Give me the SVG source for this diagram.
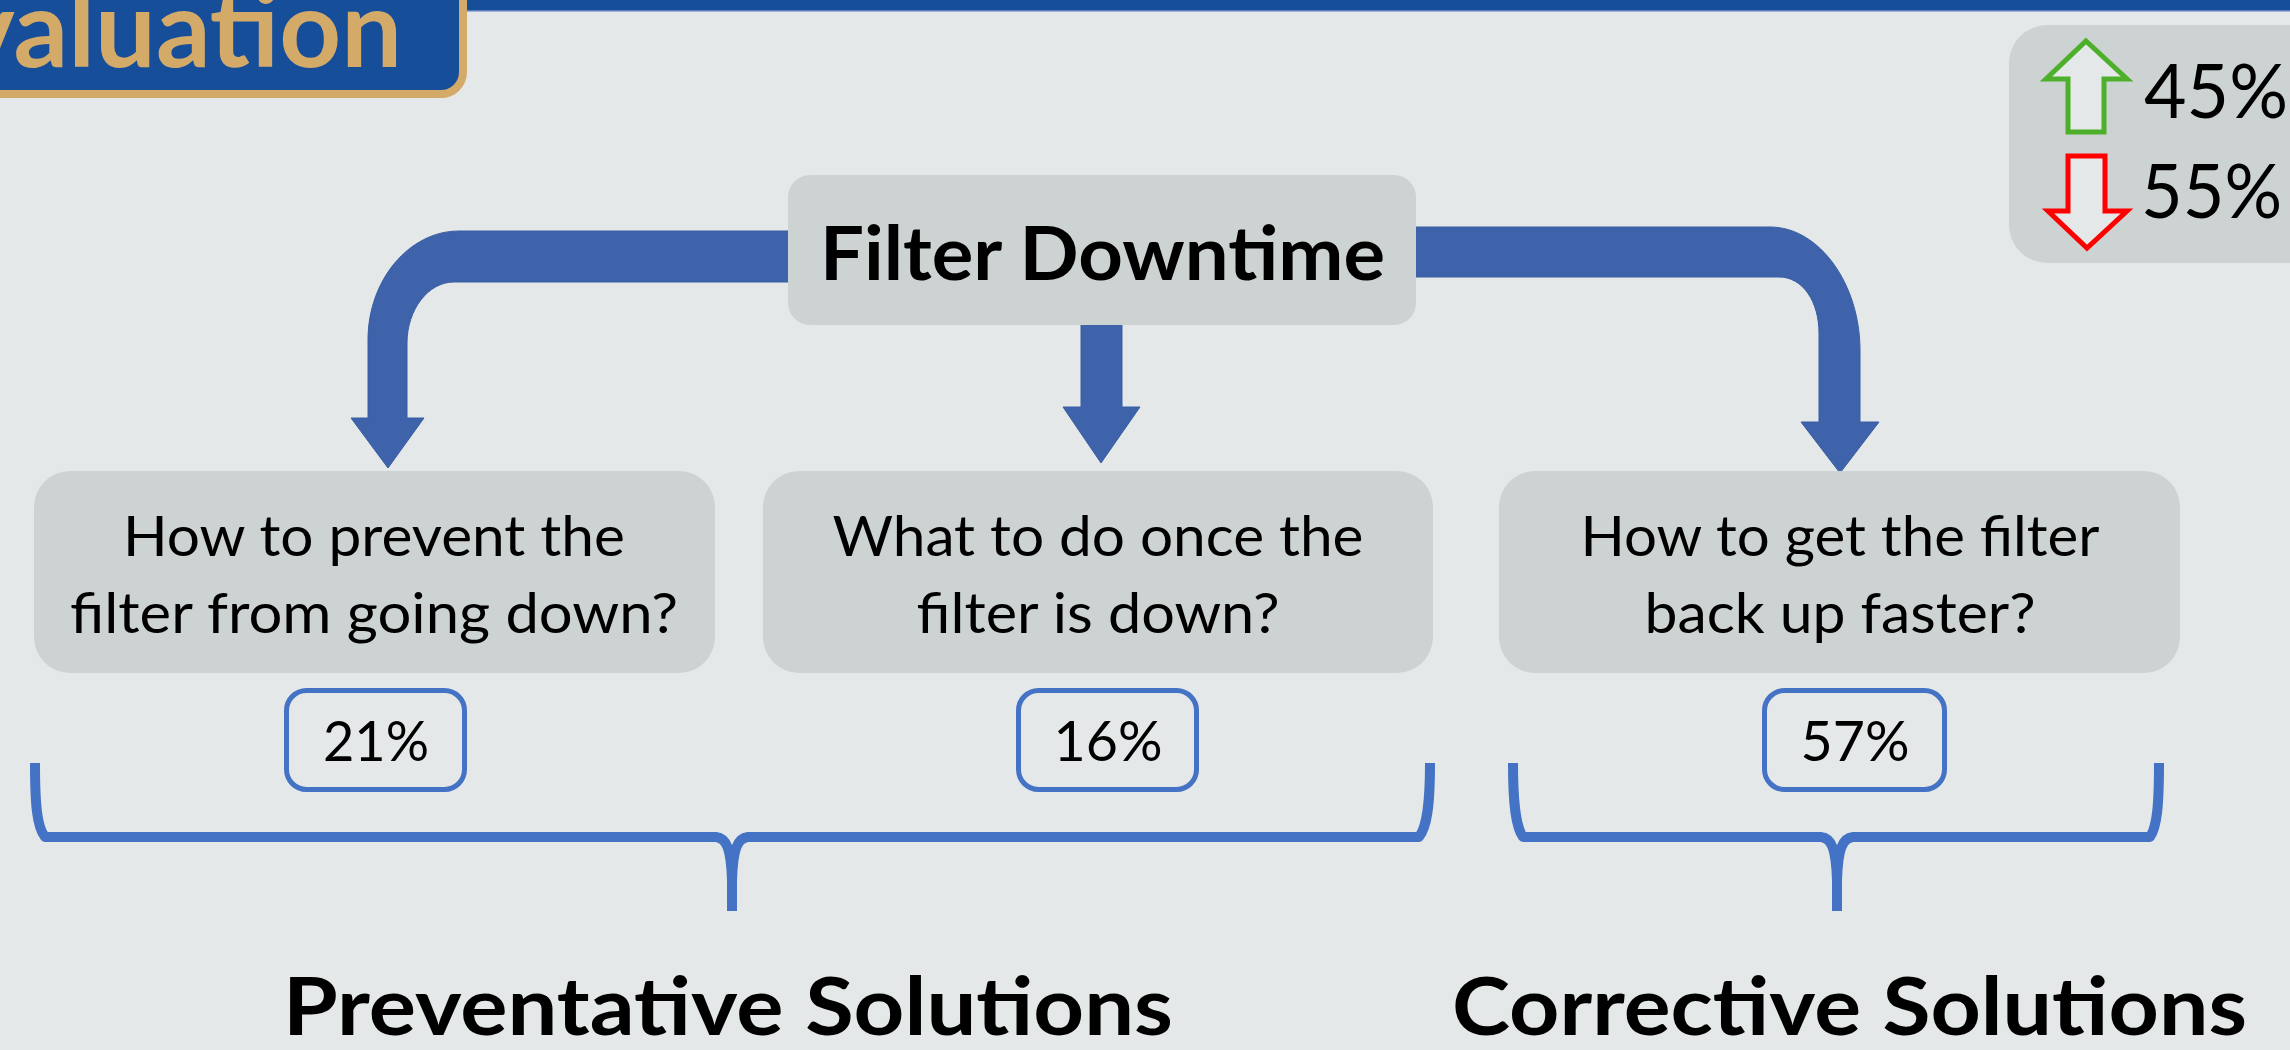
<svg xmlns="http://www.w3.org/2000/svg" width="2290" height="1050" viewBox="0 0 2290 1050">
<style>
.bg{fill:#E4E8E9}
.node{fill:#CDD3D3}
.arrow{fill:#3F63AA;stroke:#3A5EA3;stroke-width:1}
.pct{fill:none;stroke:#4472C4;stroke-width:5}
.brace{fill:none;stroke:#4472C4;stroke-width:10;stroke-linejoin:round}
.t{font-family:Lato,"Open Sans","Liberation Sans",sans-serif;fill:#000}
.q{font-size:56px;text-anchor:middle}
.b{font-weight:bold}
</style>
<rect class="bg" x="0" y="0" width="2290" height="1050"/>

<g id="top-bar">
<rect x="440" y="0" width="1850" height="10" fill="#174E9A"/>
<rect x="440" y="10" width="1850" height="1.5" fill="#5A7FBE"/>
</g>

<g id="title">
<rect x="-30" y="-30" width="493" height="124" rx="22" fill="#174E9A" stroke="#D4AA68" stroke-width="8"/>
<text class="t b" x="-42" y="67" font-size="107" fill="#D4AA68" style="fill:#D4AA68" textLength="444" lengthAdjust="spacingAndGlyphs">valuation</text>
</g>

<g id="connectors">
<path class="arrow" d="M 800 231 L 459 231 C 409 231 368 280 368 340 L 368 418 L 351 418 L 388 468 L 424 418 L 407 418 L 407 343 C 407 310 428 282 454 282 L 800 282 Z"/>
<path class="arrow" d="M 1081 320 L 1122 320 L 1122 407 L 1140 407 L 1101 463 L 1063 407 L 1081 407 Z"/>
<path class="arrow" d="M 1400 227 L 1770 227 C 1820 227 1860 285 1860 350 L 1860 422 L 1879 422 L 1840 473 L 1801 422 L 1819 422 L 1819 333 C 1819 302 1803 277 1779 277 L 1400 277 Z"/>
</g>

<g id="filter-downtime">
<rect class="node" x="788" y="175" width="628" height="150" rx="22"/>
<text class="t b" x="820" y="280" font-size="74" textLength="565" lengthAdjust="spacingAndGlyphs">Filter Downtime</text>
</g>

<g id="q1">
<rect class="node" x="34" y="471" width="681" height="202" rx="36"/>
<text class="t q" x="374" y="556" textLength="502" lengthAdjust="spacingAndGlyphs">How to prevent the</text>
<text class="t q" x="374" y="633" textLength="608" lengthAdjust="spacingAndGlyphs">filter from going down?</text>
</g>
<g id="q2">
<rect class="node" x="763" y="471" width="670" height="202" rx="36"/>
<text class="t q" x="1098" y="556" textLength="531" lengthAdjust="spacingAndGlyphs">What to do once the</text>
<text class="t q" x="1098" y="633" textLength="363" lengthAdjust="spacingAndGlyphs">filter is down?</text>
</g>
<g id="q3">
<rect class="node" x="1499" y="471" width="681" height="202" rx="36"/>
<text class="t q" x="1840" y="556" textLength="519" lengthAdjust="spacingAndGlyphs">How to get the filter</text>
<text class="t q" x="1840" y="633" textLength="391" lengthAdjust="spacingAndGlyphs">back up faster?</text>
</g>

<g id="pct-21">
<rect class="pct" x="286.5" y="690.5" width="178" height="99" rx="20"/>
<text class="t q" x="376" y="761" textLength="106" lengthAdjust="spacingAndGlyphs">21%</text>
</g>
<g id="pct-16">
<rect class="pct" x="1018.5" y="690.5" width="178" height="99" rx="20"/>
<text class="t q" x="1108" y="761" textLength="109" lengthAdjust="spacingAndGlyphs">16%</text>
</g>
<g id="pct-57">
<rect class="pct" x="1764.5" y="690.5" width="180" height="99" rx="20"/>
<text class="t q" x="1855" y="761" textLength="109" lengthAdjust="spacingAndGlyphs">57%</text>
</g>

<g id="brace-preventative">
<path class="brace" d="M 35 763 C 35 805 37 827 45 837 L 716 837 C 727 838 731 850 732 880 L 732 911 M 732 880 C 733 850 737 838 748 837 L 1419 837 C 1427 827 1430 805 1430 763"/>
</g>
<g id="brace-corrective">
<path class="brace" d="M 1513 763 C 1513 805 1516 827 1523 837 L 1821 837 C 1832 838 1836 850 1837 880 L 1837 911 M 1837 880 C 1838 850 1842 838 1853 837 L 2150 837 C 2157 827 2159 805 2159 763"/>
</g>

<g id="label-preventative">
<text class="t b" x="283" y="1035" font-size="81" textLength="890" lengthAdjust="spacingAndGlyphs">Preventative Solutions</text>
</g>
<g id="label-corrective">
<text class="t b" x="1452" y="1035" font-size="81" textLength="795" lengthAdjust="spacingAndGlyphs">Corrective Solutions</text>
</g>

<g id="legend">
<rect class="node" x="2009" y="25" width="330" height="238" rx="38"/>
<polygon points="2086,41 2127,79 2104,79 2104,132 2068,132 2068,79 2046,79" fill="#E4E8E9" stroke="#4DAF2A" stroke-width="5"/>
<polygon points="2068,156 2105,156 2105,211 2127,211 2087,248 2048,211 2068,211" fill="#E4E8E9" stroke="#FF0000" stroke-width="5"/>
<text class="t" x="2144" y="118" font-size="76" textLength="144" lengthAdjust="spacingAndGlyphs">45%</text>
<text class="t" x="2141" y="218" font-size="76" textLength="141" lengthAdjust="spacingAndGlyphs">55%</text>
</g>
</svg>
